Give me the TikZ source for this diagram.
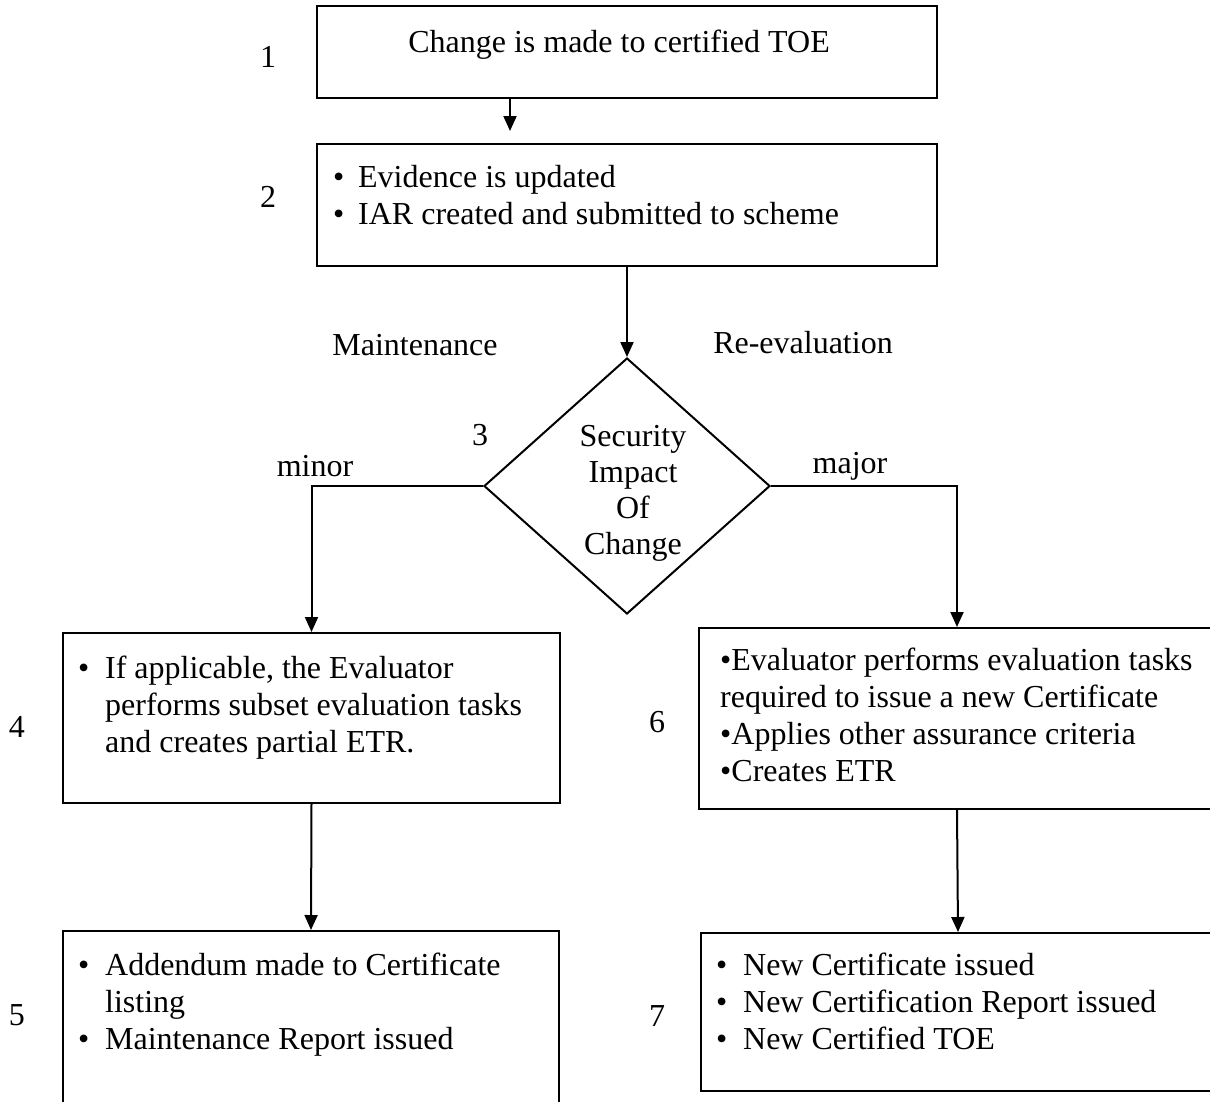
\documentclass[tikz,border=0pt]{standalone}
\usepackage{fontspec}
\setmainfont{Liberation Serif}
\usetikzlibrary{arrows.meta,shapes.geometric}
\begin{document}
\begin{tikzpicture}[x=1pt,y=-1pt,
  every node/.style={font=\fontsize{32}{37}\selectfont},
  box/.style={draw, line width=2pt, inner sep=0pt, anchor=north west},
  txt/.style={inner sep=0pt, anchor=base west},
  lbl/.style={inner sep=0pt},
  arr/.style={line width=2pt, -{Triangle[length=15pt,width=13pt]}}
]
\useasboundingbox (0,0) rectangle (1210,1101);
\fill[white] (0,0) rectangle (1210,1101);

% boxes
\node[box, minimum width=620pt, minimum height=92pt] (b1) at (316,5) {};
\node[box, minimum width=620pt, minimum height=122pt] (b2) at (316,143) {};
\node[box, minimum width=497pt, minimum height=170pt] (b4) at (62,632) {};
\node[box, minimum width=496pt, minimum height=176pt] (b5) at (62,930) {};
\node[box, minimum width=516pt, minimum height=181pt] (b6) at (698,627) {};
\node[box, minimum width=514pt, minimum height=158pt] (b7) at (700,932) {};
\node[draw, diamond, line width=2pt, minimum width=286pt, minimum height=256pt,
      aspect=1.117, inner sep=0pt] (d) at (627,486) {};
\node[lbl, align=center, font=\fontsize{32}{36}\selectfont] (dt) at (633,493) {Security\\Impact\\Of\\Change};

% box texts
\node[lbl, anchor=base] (t1) at (619,52) {Change is made to certified TOE};
\node[txt] (t2) at (333,187) {\begin{tabular}[t]{@{}p{25pt}@{}l@{}}
  \textbullet & Evidence is updated\\
  \textbullet & IAR created and submitted to scheme\end{tabular}};
\node[txt] (t4) at (78,678) {\begin{tabular}[t]{@{}p{27pt}@{}l@{}}
  \textbullet & If applicable, the Evaluator\\
   & performs subset evaluation tasks\\
   & and creates partial ETR.\end{tabular}};
\node[txt] (t5) at (78,975) {\begin{tabular}[t]{@{}p{27pt}@{}l@{}}
  \textbullet & Addendum made to Certificate\\
   & listing\\
  \textbullet & Maintenance Report issued\end{tabular}};
\node[txt] (t6) at (720,670) {\begin{tabular}[t]{@{}l@{}}
  \textbullet Evaluator performs evaluation tasks\\
  required to issue a new Certificate\\
  \textbullet Applies other assurance criteria\\
  \textbullet Creates ETR\end{tabular}};
\node[txt] (t7) at (716,975) {\begin{tabular}[t]{@{}p{27pt}@{}l@{}}
  \textbullet & New Certificate issued\\
  \textbullet & New Certification Report issued\\
  \textbullet & New Certified TOE\end{tabular}};

% step numbers and labels
\node[lbl] (n1) at (268,57) {1};
\node[lbl] (n2) at (268,197) {2};
\node[lbl] (n3) at (480,435) {3};
\node[lbl] (n4) at (17,727) {4};
\node[lbl] (n5) at (17,1015) {5};
\node[lbl] (n6) at (657,722) {6};
\node[lbl] (n7) at (657,1016) {7};
\node[lbl] (lmaint) at (415,345) {Maintenance};
\node[lbl] (lreev) at (803,343) {Re-evaluation};
\node[lbl] (lminor) at (315,466) {minor};
\node[lbl] (lmajor) at (850,466) {major};

% connectors
\coordinate (a12) at (510,131);
\draw[arr] (b1.south -| a12) -- (a12);
\draw[arr] (b2.south) -- (d.north);
\draw[arr] (d.west) -| (b4.north);
\draw[arr] (d.east) -| (b6.north);
\draw[arr] (b4.south) -- (b5.north);
\draw[arr] (b6.south) -- (b7.north);
\end{tikzpicture}
\end{document}
